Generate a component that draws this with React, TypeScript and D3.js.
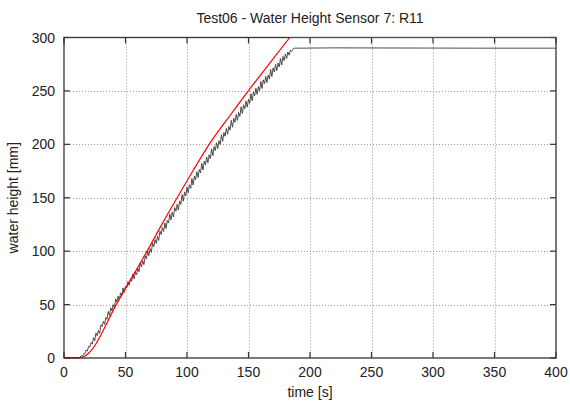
import React from "react";
import * as d3 from "d3";

const titleText = "Test06 - Water Height Sensor 7: R11";
const xLabel = "time [s]";
const yLabel = "water height [mm]";
const xTicks = [0, 50, 100, 150, 200, 250, 300, 350, 400];
const yTicks = [0, 50, 100, 150, 200, 250, 300];

// measured sensor signal (black)
const measuredTime = [
  0, 5, 10, 12, 13, 14, 15, 16, 17, 18, 19, 20, 21, 22, 23, 24, 25, 26, 27, 28, 29, 30,
  31, 32, 33, 34, 35, 36, 37, 38, 39, 40, 41, 42, 43, 44, 45, 46, 47, 48, 49, 50,
  51, 52, 53, 54, 55, 56, 57, 58, 59, 60, 61, 62, 63, 64, 65, 66, 67, 68, 69, 70,
  71, 72, 73, 74, 75, 76, 77, 78, 79, 80, 81, 82, 83, 84, 85, 86, 87, 88, 89, 90,
  91, 92, 93, 94, 95, 96, 97, 98, 99, 100, 101, 102, 103, 104, 105, 106, 107, 108, 109, 110,
  111, 112, 113, 114, 115, 116, 117, 118, 119, 120, 121, 122, 123, 124, 125, 126, 127, 128, 129, 130,
  131, 132, 133, 134, 135, 136, 137, 138, 139, 140, 141, 142, 143, 144, 145, 146, 147, 148, 149, 150,
  151, 152, 153, 154, 155, 156, 157, 158, 159, 160, 161, 162, 163, 164, 165, 166, 167, 168, 169, 170,
  171, 172, 173, 174, 175, 176, 177, 178, 179, 180, 181, 182, 183, 184, 185, 186, 187, 188,
  190, 220, 260, 300, 340, 400,
];
const measuredHeight = [
  0.5, 0.5, 0.5, 0, 1, 2, 1.5, 4, 4, 7.5, 6.5, 11, 10.2, 14.5, 13, 19, 16.2, 23.5, 20.8, 25.8, 23, 31,
  29.5, 34.3, 31.4, 38, 36.2, 43.5, 39.8, 47, 44.2, 50, 47, 55.3, 52.4, 58, 54.5, 61, 58.6, 65.6, 61.4, 67.3,
  65.8, 71.6, 68, 74.2, 71.8, 78.6, 74.1, 80.4, 77.9, 84, 80.7, 88.6, 85.2, 91, 87.4, 95.6, 92.8, 100, 95.8, 102.5,
  98.7, 107.6, 104.2, 110.8, 107.3, 113.9, 110, 118.9, 115.6, 122.2, 118.5, 126.4, 121.2, 128.7, 126.4, 134.6, 129.3, 136.6, 132, 140.8,
  137.4, 143.9, 138.5, 147, 143.8, 152.9, 146.8, 155.5, 151.6, 160, 154.6, 162.2, 158.8, 168, 161.8, 170.3, 166.9, 174.4, 169, 176.5,
  173.2, 182.2, 175.9, 184.3, 180.8, 188.2, 182.7, 190.2, 186.6, 195.8, 189.4, 197.8, 194.2, 201.5, 196, 203.4, 199.9, 209, 202.7, 211.1,
  207.6, 214.9, 209.4, 216.8, 213.4, 222.4, 216, 224.3, 220.7, 228, 222.4, 229.8, 226.2, 235.2, 228.8, 237, 233.3, 240.5, 234.8, 242,
  238.4, 247.3, 240.8, 249, 245.3, 252.5, 246.8, 254, 250.1, 258.9, 252.3, 260.4, 256.6, 263.6, 257.8, 264.9, 261.1, 270, 263.4, 271.5,
  267.7, 274.8, 269, 276.1, 272.4, 280.3, 274.3, 282.3, 278.4, 284.6, 280.3, 286.4, 283.5, 288, 286.9, 289, 290, 290,
  290, 290.3, 290.2, 290.1, 290, 290,
];

// simulated water height (red)
const modelTime = [0, 12, 16, 20, 25, 30, 35, 42, 50, 60, 68, 80, 92, 105, 118, 135, 150, 167, 183.5, 400];
const modelHeight = [0, 0, 1.2, 4.5, 11.5, 21.5, 33, 49, 65, 85, 101, 126, 150, 175.5, 200, 227, 250.3, 275.6, 300, 300];

const W = 570;
const H = 403;
const M = { left: 64, right: 14, top: 37.5, bottom: 45 };

export default function App() {
  const x = d3.scaleLinear().domain([0, 400]).range([M.left, W - M.right]);
  const y = d3.scaleLinear().domain([0, 300]).range([H - M.bottom, M.top]);

  const measured = measuredTime.map((t, i) => [t, measuredHeight[i]] as [number, number]);
  const model = modelTime.map((t, i) => [t, modelHeight[i]] as [number, number]);
  const line = d3
    .line<[number, number]>()
    .x((d) => x(d[0]))
    .y((d) => y(d[1]));
  const smooth = d3
    .line<[number, number]>()
    .x((d) => x(d[0]))
    .y((d) => y(d[1]))
    .curve(d3.curveMonotoneX);

  const peakIdx = modelHeight.indexOf(300);
  const modelRise = model.slice(1, peakIdx + 1);
  const modelFlatStart = model.slice(0, 2);
  const modelPlateau = model.slice(peakIdx);

  const x0 = x(0), x1 = x(400), y0 = y(0), y1 = y(300);
  const font = "'Liberation Sans', Arial, sans-serif";
  const tickLen = 6;
  const frame = "#333";

  return (
    <svg
      width={W}
      height={H}
      style={{ position: "absolute", left: 0, top: 0, background: "#fff" }}
      fontFamily={font}
    >
      <rect x={0} y={0} width={W} height={H} fill="#fff" />
      <defs>
        <clipPath id="plotclip">
          <rect x={x0} y={y1 - 1} width={x1 - x0} height={y0 - y1 + 2} />
        </clipPath>
      </defs>
      {/* grid */}
      <g stroke="#999" strokeWidth={1} strokeDasharray="1,2">
        {xTicks.slice(1, -1).map((t) => (
          <line key={"gx" + t} x1={Math.round(x(t)) + 0.5} x2={Math.round(x(t)) + 0.5} y1={y1} y2={y0} />
        ))}
        {yTicks.slice(1, -1).map((t) => (
          <line key={"gy" + t} x1={x0} x2={x1} y1={Math.round(y(t)) + 0.5} y2={Math.round(y(t)) + 0.5} />
        ))}
      </g>
      {/* ticks */}
      <g stroke={frame} strokeWidth={1.2}>
        {xTicks.map((t) => (
          <g key={"tx" + t}>
            <line x1={x(t)} x2={x(t)} y1={y0} y2={y0 - tickLen} />
            <line x1={x(t)} x2={x(t)} y1={y1} y2={y1 + tickLen} />
          </g>
        ))}
        {yTicks.map((t) => (
          <g key={"ty" + t}>
            <line x1={x0} x2={x0 + tickLen} y1={y(t)} y2={y(t)} />
            <line x1={x1} x2={x1 - tickLen} y1={y(t)} y2={y(t)} />
          </g>
        ))}
      </g>
      {/* data */}
      <g clipPath="url(#plotclip)">
        <path d={line(measured) || ""} fill="none" stroke="#3a3a3a" strokeWidth={0.9} strokeLinejoin="round" />
        <path d={line(modelFlatStart) || ""} fill="none" stroke="#ff0000" strokeWidth={1.2} />
        <path d={smooth(modelRise) || ""} fill="none" stroke="#ff0000" strokeWidth={1.2} />
      </g>
      {/* frame */}
      <rect x={x0} y={y1} width={x1 - x0} height={y0 - y1} fill="none" stroke={frame} strokeWidth={1.3} />
      {/* red plateau drawn along top border (value at 300) */}
      <path d={line(modelPlateau) || ""} fill="none" stroke="#ff0000" strokeWidth={1.2} />
      {/* tick labels */}
      <g fontSize={14} fill="#222">
        {xTicks.map((t) => (
          <text key={"lx" + t} x={x(t)} y={y0 + 19} textAnchor="middle">
            {t}
          </text>
        ))}
        {yTicks.map((t) => (
          <text key={"ly" + t} x={x0 - 9} y={y(t) + 5} textAnchor="end">
            {t}
          </text>
        ))}
      </g>
      <text x={(x0 + x1) / 2} y={23} textAnchor="middle" fontSize={14} fill="#222">
        {titleText}
      </text>
      <text x={(x0 + x1) / 2} y={397} textAnchor="middle" fontSize={14} fill="#222">
        {xLabel}
      </text>
      <text
        transform={`translate(18, ${(y0 + y1) / 2}) rotate(-90)`}
        textAnchor="middle"
        fontSize={14}
        fill="#222"
      >
        {yLabel}
      </text>
    </svg>
  );
}
